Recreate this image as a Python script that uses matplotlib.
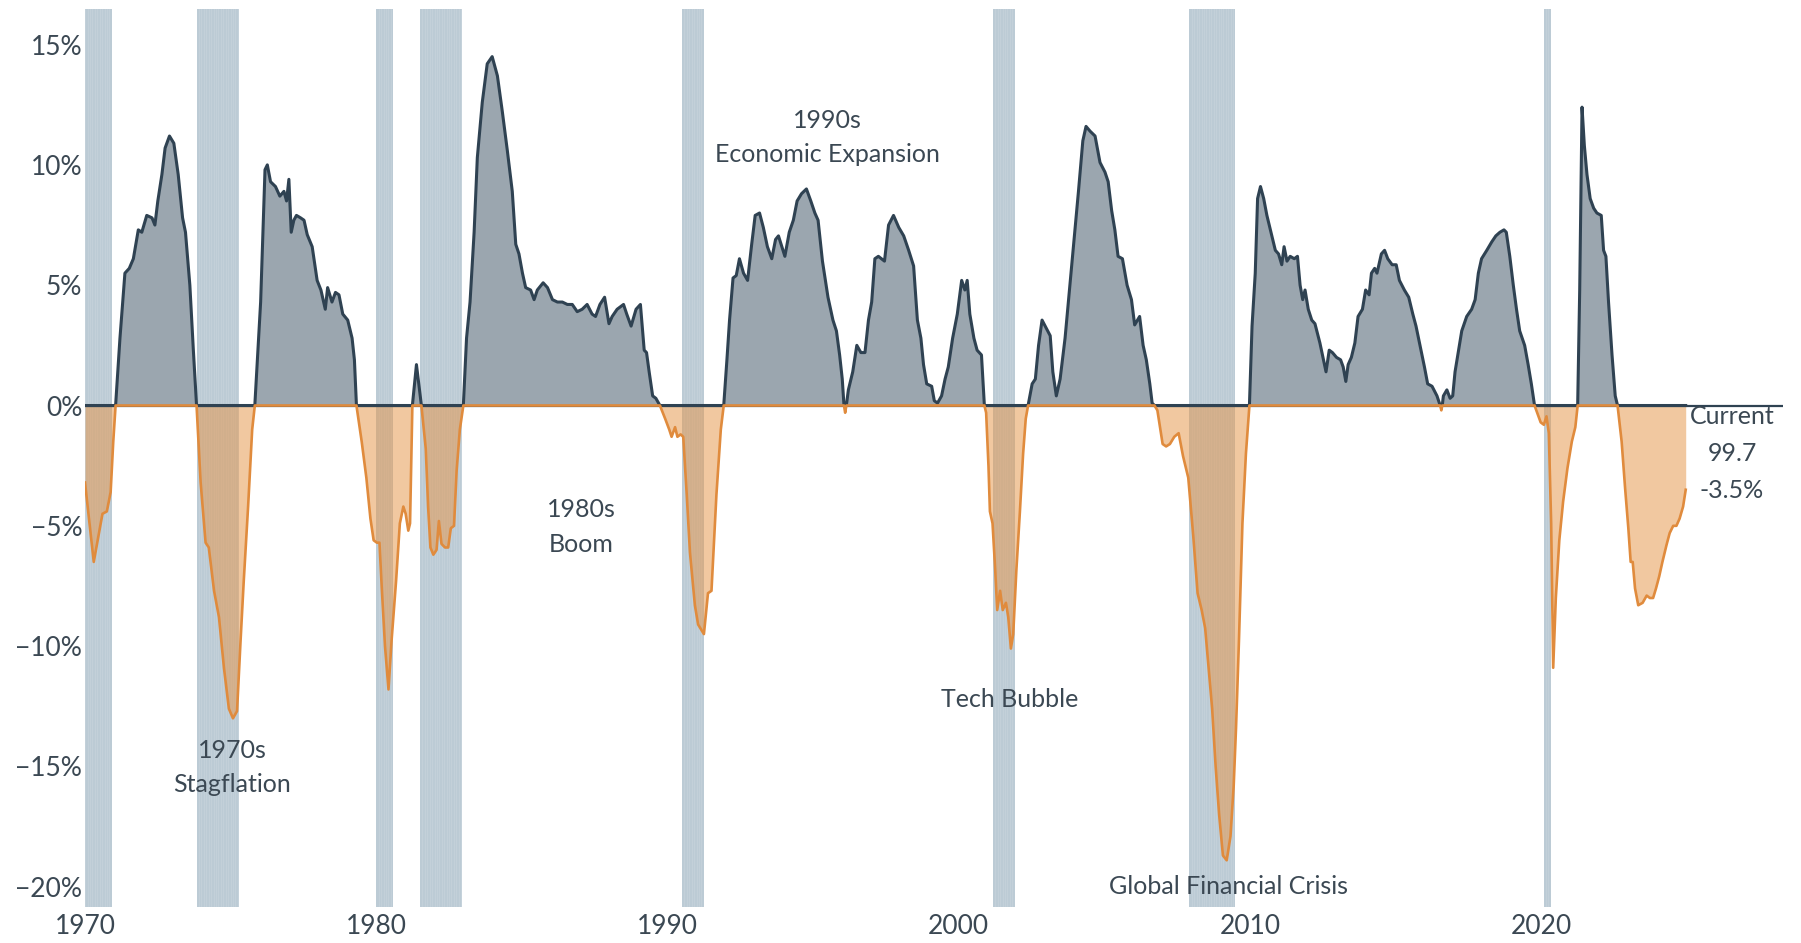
import numpy as np
import matplotlib
matplotlib.use("Agg")
import matplotlib.pyplot as plt

# ---------------- data ----------------
dates = [
    1970.00, 1970.30, 1970.60, 1970.75, 1970.88, 1970.97, 1971.05,
    1971.20, 1971.37, 1971.52, 1971.66, 1971.83, 1971.95, 1972.12, 1972.30, 1972.40, 1972.50,
    1972.64, 1972.75, 1972.90, 1973.05, 1973.20, 1973.35, 1973.45, 1973.60, 1973.72, 1973.83,
    1973.97, 1974.14, 1974.25, 1974.43, 1974.60, 1974.77, 1974.94, 1975.08, 1975.22, 1975.34,
    1975.45, 1975.60, 1975.74, 1975.83,
    1976.03, 1976.18, 1976.26, 1976.37, 1976.54, 1976.69, 1976.83, 1976.92, 1977.00, 1977.08,
    1977.17, 1977.26, 1977.40, 1977.52, 1977.63, 1977.80, 1977.97, 1978.10, 1978.25, 1978.33,
    1978.48, 1978.60, 1978.72, 1978.85, 1979.02, 1979.17, 1979.25, 1979.32,
    1979.50, 1979.66, 1979.80, 1979.91, 1980.02, 1980.11, 1980.19, 1980.30, 1980.42, 1980.53,
    1980.68, 1980.81, 1980.93, 1981.01, 1981.10, 1981.16, 1981.24, 1981.38, 1981.55,
    1981.70, 1981.78, 1981.86, 1981.96, 1982.07, 1982.15, 1982.24, 1982.36, 1982.47, 1982.56,
    1982.67, 1982.76, 1982.87, 1982.99,
    1983.10, 1983.22, 1983.36, 1983.47, 1983.64, 1983.81, 1983.98, 1984.16, 1984.33, 1984.50,
    1984.67, 1984.79, 1984.90, 1985.02, 1985.13, 1985.30, 1985.42, 1985.53, 1985.73, 1985.88,
    1986.05, 1986.22, 1986.39, 1986.56, 1986.73, 1986.90, 1987.07, 1987.24, 1987.41, 1987.53,
    1987.68, 1987.84, 1987.99, 1988.10, 1988.27, 1988.49, 1988.60, 1988.75, 1988.92, 1989.07,
    1989.20, 1989.28, 1989.37, 1989.49, 1989.60, 1989.74,
    1989.92, 1990.06, 1990.14, 1990.26, 1990.34, 1990.45, 1990.54, 1990.66, 1990.77, 1990.94,
    1991.05, 1991.25, 1991.39, 1991.51, 1991.68, 1991.83, 1991.93,
    1992.04, 1992.13, 1992.25, 1992.36, 1992.47, 1992.61, 1992.75, 1992.89, 1993.01, 1993.16,
    1993.29, 1993.43, 1993.58, 1993.71, 1993.81, 1993.90, 1994.03, 1994.18, 1994.32, 1994.45,
    1994.60, 1994.77, 1994.92, 1995.06, 1995.17, 1995.32, 1995.51, 1995.68, 1995.80, 1995.91,
    1996.00, 1996.06, 1996.10, 1996.14,
    1996.21, 1996.36, 1996.50, 1996.64, 1996.78, 1996.90, 1997.01, 1997.12, 1997.24, 1997.45,
    1997.59, 1997.76, 1997.94, 1998.11, 1998.28, 1998.45, 1998.58, 1998.70, 1998.79, 1998.90,
    1999.07, 1999.16, 1999.27, 1999.41, 1999.53, 1999.64, 1999.79, 1999.95, 2000.10, 2000.21,
    2000.29, 2000.38, 2000.52, 2000.63, 2000.78, 2000.88,
    2000.94, 2001.02, 2001.07, 2001.16, 2001.25, 2001.32, 2001.42, 2001.51, 2001.62, 2001.70,
    2001.79, 2001.87, 2001.98, 2002.10, 2002.21, 2002.30, 2002.38,
    2002.52, 2002.63, 2002.74, 2002.86, 2003.01, 2003.14, 2003.23, 2003.35, 2003.48, 2003.65,
    2003.80, 2003.94, 2004.11, 2004.26, 2004.37, 2004.51, 2004.68, 2004.85, 2005.02, 2005.13,
    2005.25, 2005.36, 2005.47, 2005.62, 2005.78, 2005.93, 2006.04, 2006.21, 2006.33, 2006.44,
    2006.56, 2006.64, 2006.72,
    2006.82, 2006.91, 2007.00, 2007.12, 2007.25, 2007.40, 2007.55, 2007.70, 2007.88, 2008.05,
    2008.20, 2008.34, 2008.46, 2008.58, 2008.70, 2008.82, 2008.94, 2009.07, 2009.20, 2009.33,
    2009.44, 2009.52, 2009.62, 2009.74, 2009.86, 2009.98,
    2010.07, 2010.18, 2010.26, 2010.36, 2010.47, 2010.58, 2010.72, 2010.87, 2010.98, 2011.09,
    2011.17, 2011.27, 2011.38, 2011.52, 2011.63, 2011.72, 2011.81, 2011.89, 2012.00, 2012.12,
    2012.23, 2012.40, 2012.61, 2012.72, 2012.83, 2012.97, 2013.11, 2013.20, 2013.29, 2013.37,
    2013.48, 2013.60, 2013.71, 2013.86, 2013.97, 2014.09, 2014.17, 2014.28, 2014.36, 2014.51,
    2014.62, 2014.73, 2014.88, 2015.02, 2015.13, 2015.30, 2015.45, 2015.59, 2015.70, 2015.82,
    2015.99, 2016.10,
    2016.25, 2016.42, 2016.53, 2016.57, 2016.60, 2016.64, 2016.76, 2016.87, 2016.96, 2017.04,
    2017.16, 2017.27, 2017.44, 2017.61, 2017.73, 2017.84, 2017.95, 2018.13, 2018.30, 2018.44,
    2018.58, 2018.72, 2018.80, 2018.92, 2019.04, 2019.15, 2019.26, 2019.43, 2019.55, 2019.66,
    2019.77,
    2019.86, 2019.98, 2020.09, 2020.18, 2020.26, 2020.34, 2020.41, 2020.50, 2020.62, 2020.75,
    2020.90, 2021.05, 2021.17, 2021.25,
    2021.32, 2021.40, 2021.48, 2021.57, 2021.68, 2021.80, 2021.91, 2022.06, 2022.14, 2022.22,
    2022.31, 2022.43, 2022.54, 2022.62,
    2022.76, 2022.88, 2022.99, 2023.07, 2023.14, 2023.22, 2023.33, 2023.48, 2023.62, 2023.73,
    2023.84, 2023.94, 2024.05, 2024.16, 2024.30, 2024.41, 2024.53, 2024.64, 2024.75, 2024.87,
    2024.96,
]

values = [
    -3.2, -6.5, -4.5, -4.4, -3.6, -1.5, 0.0,
    2.8, 5.5, 5.7, 6.1, 7.3, 7.2, 7.9, 7.8, 7.5, 8.5,
    9.6, 10.7, 11.2, 10.9, 9.6, 7.8, 7.2, 5.0, 2.3, 0.0,
    -3.2, -5.7, -5.9, -7.7, -8.8, -10.9, -12.6, -13.0, -12.7, -9.8,
    -7.3, -4.2, -1.0, 0.0,
    4.3, 9.8, 10.0, 9.3, 9.1, 8.7, 8.9, 8.5, 9.4, 7.2,
    7.7, 7.9, 7.8, 7.7, 7.1, 6.6, 5.2, 4.8, 4.0, 4.9,
    4.3, 4.7, 4.6, 3.8, 3.55, 2.8, 1.9, 0.0,
    -1.5, -3.0, -4.7, -5.6, -5.7, -5.7, -7.6, -10.0, -11.8, -9.7,
    -7.3, -4.9, -4.2, -4.5, -5.2, -4.9, 0.0, 1.7, 0.0,
    -1.8, -4.2, -5.9, -6.2, -6.0, -4.8, -5.75, -5.9, -5.9, -5.1,
    -5.0, -2.7, -1.0, 0.0,
    2.8, 4.3, 7.2, 10.3, 12.6, 14.2, 14.5, 13.7, 12.2, 10.6,
    8.9, 6.7, 6.3, 5.5, 4.9, 4.8, 4.4, 4.8, 5.1, 4.9,
    4.4, 4.3, 4.3, 4.2, 4.2, 3.9, 4.0, 4.2, 3.8, 3.7,
    4.2, 4.5, 3.4, 3.7, 4.0, 4.2, 3.8, 3.3, 4.0, 4.2,
    2.3, 2.2, 1.4, 0.4, 0.3, 0.0,
    -0.55, -1.0, -1.3, -0.9, -1.3, -1.2, -1.3, -3.7, -6.1, -8.3,
    -9.1, -9.5, -7.8, -7.7, -3.7, -1.0, 0.0,
    1.9, 3.55, 5.3, 5.4, 6.1, 5.5, 5.2, 6.7, 7.9, 8.0,
    7.4, 6.6, 6.1, 6.9, 7.05, 6.7, 6.2, 7.2, 7.7, 8.5,
    8.8, 9.0, 8.5, 8.0, 7.7, 6.0, 4.5, 3.55, 3.1, 2.1,
    1.1, 0.0, -0.3, 0.0,
    0.65, 1.4, 2.5, 2.2, 2.2, 3.55, 4.3, 6.1, 6.2, 6.0,
    7.5, 7.9, 7.4, 7.05, 6.45, 5.8, 3.55, 2.8, 1.7, 0.9,
    0.8, 0.2, 0.1, 0.4, 1.1, 1.6, 2.8, 3.8, 5.2, 4.8,
    5.2, 3.8, 2.8, 2.3, 2.1, 0.0,
    -0.3, -2.5, -4.4, -4.9, -6.8, -8.5, -7.7, -8.5, -8.2, -8.8,
    -10.1, -9.5, -6.8, -4.4, -2.0, -0.55, 0.0,
    0.9, 1.1, 2.5, 3.55, 3.2, 2.9, 1.4, 0.4, 1.1, 2.8,
    4.8, 6.7, 8.9, 11.0, 11.6, 11.4, 11.2, 10.1, 9.7, 9.3,
    8.1, 7.3, 6.2, 6.1, 5.0, 4.4, 3.35, 3.7, 2.5, 1.9,
    0.9, 0.1, 0.0,
    -0.2, -0.9, -1.6, -1.7, -1.6, -1.3, -1.15, -2.1, -3.0, -5.4,
    -7.8, -8.5, -9.25, -10.9, -12.6, -15.0, -17.0, -18.7, -18.9, -17.9,
    -15.8, -13.4, -9.8, -4.9, -2.0, 0.0,
    3.3, 5.5, 8.6, 9.1, 8.6, 7.9, 7.2, 6.45, 6.3, 5.85,
    6.6, 6.0, 6.2, 6.1, 6.2, 5.0, 4.4, 4.8, 4.0, 3.55,
    3.4, 2.6, 1.4, 2.3, 2.2, 2.0, 1.9, 1.6, 1.0, 1.7,
    2.0, 2.6, 3.7, 4.0, 4.8, 4.6, 5.5, 5.7, 5.5, 6.3,
    6.45, 6.1, 5.85, 5.85, 5.2, 4.8, 4.5, 3.8, 3.3, 2.6,
    1.6, 0.9,
    0.8, 0.4, 0.0, -0.2, 0.0, 0.4, 0.65, 0.3, 0.4, 1.4,
    2.3, 3.1, 3.7, 4.0, 4.4, 5.5, 6.1, 6.45, 6.8, 7.05,
    7.2, 7.3, 7.2, 6.2, 5.0, 4.0, 3.1, 2.5, 1.7, 0.9,
    0.0,
    -0.3, -0.7, -0.8, -0.45, -1.15, -4.9, -10.9, -8.0, -5.6, -4.0,
    -2.6, -1.5, -0.9, 0.0,
    4.8, 12.4, 10.8, 9.6, 8.6, 8.2, 8.0, 7.9, 6.45, 6.2,
    4.3, 2.1, 0.4, 0.0,
    -1.5, -3.45, -5.1, -6.5, -6.5, -7.6, -8.3, -8.2, -7.9, -8.0,
    -8.0, -7.6, -7.1, -6.5, -5.8, -5.3, -5.0, -5.0, -4.7, -4.2,
    -3.5,
]

recession_starts = [1969.92, 1973.83, 1980.00, 1981.50, 1990.50, 2001.17, 2007.92, 2020.08]
recession_ends = [1970.92, 1975.25, 1980.58, 1982.92, 1991.25, 2001.92, 2009.50, 2020.33]

x_ticks = [1970, 1980, 1990, 2000, 2010, 2020]
y_ticks = [15, 10, 5, 0, -5, -10, -15, -20]
y_tick_labels = ["15%", "10%", "5%", "0%", "\u22125%", "\u221210%", "\u221215%", "\u221220%"]

annotations = [
    ("1970s\nStagflation", 1975.05, -15.05),
    ("1980s\nBoom", 1987.05, -5.05),
    ("1990s\nEconomic Expansion", 1995.5, 11.15),
    ("Tech Bubble", 2001.75, -12.2),
    ("Global Financial Crisis", 2009.25, -20.0),
]
current_label = "Current\n99.7\n-3.5%"
current_pos = (2026.55, -2.0)

# ---------------- style ----------------
plt.rcParams["font.family"] = ["Lato", "DejaVu Sans"]
DARK = "#2f4252"
DARK_FILL = "#9ba6af"
ORANGE = "#e08b3d"
ORANGE_FILL = "#e6964a"
BAND = "#bccbd5"
BAND_STRIPE = "#c4d1da"
TEXT = "#3b4853"

fig = plt.figure(figsize=(18.01, 9.43), dpi=100)
ax = fig.add_axes([0.0472, 0.0382, 0.9428, 0.9523])

x = np.array(dates)
v = np.array(values)
pos = np.maximum(v, 0.0)
neg = np.minimum(v, 0.0)

# recession bands (monthly bars look)
for s, e in zip(recession_starts, recession_ends):
    ax.axvspan(s, e, color=BAND, lw=0, zorder=1)
    for m in np.arange(s + 1 / 12, e - 1e-6, 1 / 12):
        ax.axvline(m, color=BAND_STRIPE, lw=0.7, zorder=1.1)

ax.fill_between(x, pos, 0, color=DARK_FILL, lw=0, zorder=2)
ax.fill_between(x, neg, 0, color=ORANGE_FILL, alpha=0.52, lw=0, zorder=2)

xmin, xmax = 1970.0, 2028.3
ax.plot([xmin, xmax], [0, 0], color=DARK, lw=1.6, zorder=3, solid_capstyle="butt")
ax.plot(x, pos, color=DARK, lw=2.2, zorder=4, solid_joinstyle="round")
ax.plot(x, neg, color=ORANGE, lw=1.9, zorder=5, solid_joinstyle="round")

ax.set_xlim(xmin, xmax)
ax.set_ylim(-20.84, 16.48)

ax.set_xticks(x_ticks)
ax.set_xticklabels([str(t) for t in x_ticks])
ax.set_yticks(y_ticks)
ax.set_yticklabels(y_tick_labels)
ax.tick_params(axis="both", length=0, labelsize=19, labelcolor=TEXT)
ax.tick_params(axis="x", pad=5)
ax.tick_params(axis="y", pad=2)
for sp in ax.spines.values():
    sp.set_visible(False)

for txt, xx, yy in annotations:
    ax.text(xx, yy, txt, ha="center", va="center", fontsize=18, color=TEXT,
            linespacing=1.6, zorder=6)
ax.text(current_pos[0], current_pos[1], current_label, ha="center", va="center",
        fontsize=18, color=TEXT, linespacing=1.72, zorder=6)

fig.savefig("out.png", dpi=100, facecolor="white")
